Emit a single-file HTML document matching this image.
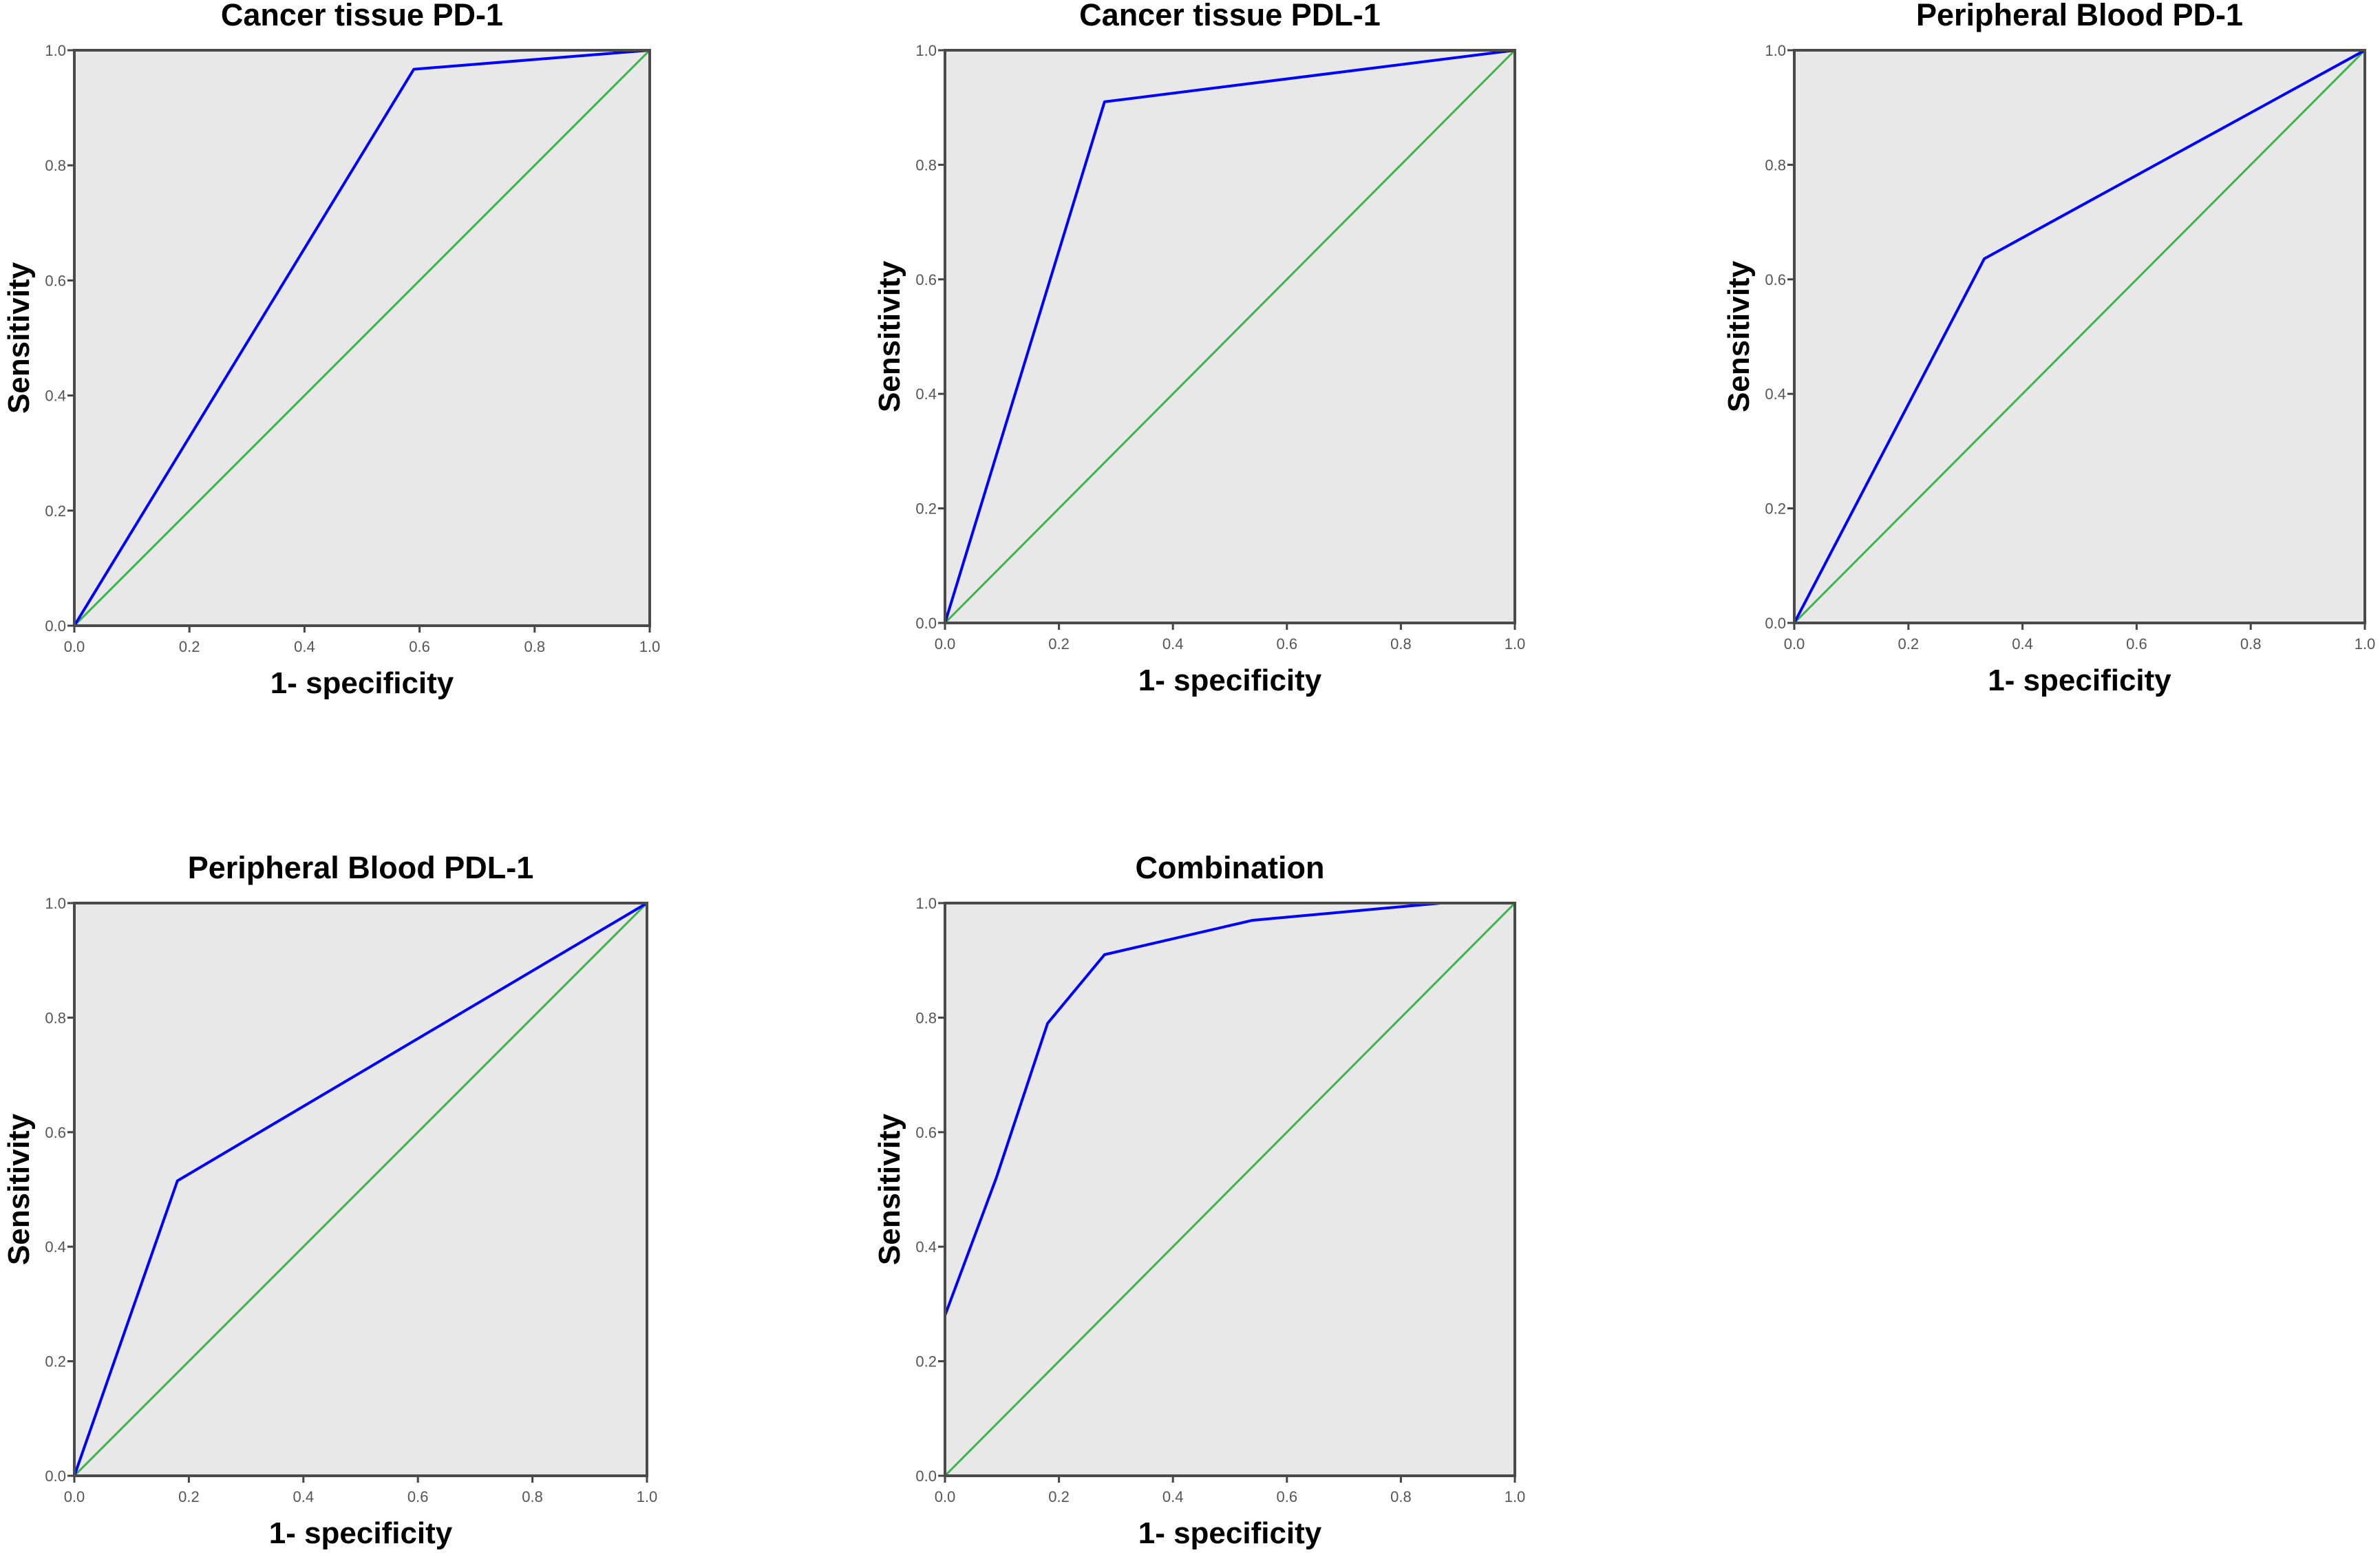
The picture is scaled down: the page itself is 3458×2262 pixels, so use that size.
<!DOCTYPE html>
<html><head><meta charset="utf-8"><style>
html,body{margin:0;padding:0;background:#fff;}
svg{display:block;font-family:"Liberation Sans",Arial,sans-serif;}
</style></head><body>
<svg id="fig" width="3458" height="2262" viewBox="0 0 3458 2262" xmlns="http://www.w3.org/2000/svg"></svg>
<script>
const titles = ["Cancer tissue PD-1","Cancer tissue PDL-1","Peripheral Blood PD-1","Peripheral Blood PDL-1","Combination"];
const fprCT_PD1 = [0, 0.59, 1];
const tprCT_PD1 = [0, 0.967, 1];
const fprCT_PDL1 = [0, 0.28, 1];
const tprCT_PDL1 = [0, 0.91, 1];
const fprPB_PD1 = [0, 0.333, 1];
const tprPB_PD1 = [0, 0.636, 1];
const fprPB_PDL1 = [0, 0.18, 1];
const tprPB_PDL1 = [0, 0.515, 1];
const fprComb = [0, 0, 0.09, 0.18, 0.28, 0.54, 0.87, 1];
const tprComb = [0, 0.28, 0.52, 0.79, 0.91, 0.97, 1, 1];
const tickVals = [0, 0.2, 0.4, 0.6, 0.8, 1.0];
const tickLabels = ["0.0","0.2","0.4","0.6","0.8","1.0"];

const panels = [
  {x0:108,x1:944,y0:73,y1:909,fpr:fprCT_PD1,tpr:tprCT_PD1},
  {x0:1373,x1:2201,y0:73,y1:905,fpr:fprCT_PDL1,tpr:tprCT_PDL1},
  {x0:2607,x1:3436,y0:73,y1:905,fpr:fprPB_PD1,tpr:tprPB_PD1},
  {x0:108,x1:940,y0:1312,y1:2144,fpr:fprPB_PDL1,tpr:tprPB_PDL1},
  {x0:1373,x1:2201,y0:1312,y1:2144,fpr:fprComb,tpr:tprComb}
];
const NS="http://www.w3.org/2000/svg";
const svg=document.getElementById('fig');
function mk(tag,attrs,parent){const e=document.createElementNS(NS,tag);for(const k in attrs)e.setAttribute(k,attrs[k]);(parent||svg).appendChild(e);return e;}

panels.forEach((p,i)=>{
  const g=mk('g',{});
  
  
  const sx=v=>p.x0+v*(p.x1-p.x0);
  const sy=v=>p.y1-v*(p.y1-p.y0);
  const bg=mk('rect',{x:p.x0,y:p.y0,width:p.x1-p.x0,height:p.y1-p.y0,fill:'#e8e8e8'},g);
  
  
  tickVals.forEach((v,j)=>{
    mk('line',{x1:sx(v),x2:sx(v),y1:p.y1,y2:p.y1+10,stroke:'#444','stroke-width':3},g);
    mk('line',{x1:p.x0-10,x2:p.x0,y1:sy(v),y2:sy(v),stroke:'#444','stroke-width':3},g);
    const tx=mk('text',{x:sx(v),y:p.y1+38,'text-anchor':'middle','font-size':22,fill:'#555'},g);
    tx.textContent=tickLabels[j];
    
    
    const ty=mk('text',{x:p.x0-12,y:sy(v)+8,'text-anchor':'end','font-size':22,fill:'#555'},g);
    ty.textContent=tickLabels[j];
    
    
  });
  const diag=mk('line',{x1:sx(0),y1:sy(0),x2:sx(1),y2:sy(1),stroke:'#3cb44b','stroke-width':3},g);
  
  
  const pts=p.fpr.map((f,k)=>sx(f)+','+sy(p.tpr[k])).join(' ');
  const roc=mk('polyline',{points:pts,fill:'none',stroke:'#0000ff','stroke-width':4,'stroke-linejoin':'round'},g);
  
  
  const fr=mk('rect',{x:p.x0,y:p.y0,width:p.x1-p.x0,height:p.y1-p.y0,fill:'none',stroke:'#4a4a4a','stroke-width':4},g);
  
  
  const cx=(p.x0+p.x1)/2;
  const t=mk('text',{x:cx,y:p.y0-36,'text-anchor':'middle','font-size':45,'font-weight':'bold',fill:'#000'},g);
  t.textContent=titles[i];
  
  
  const xt=mk('text',{x:cx,y:p.y1+98,'text-anchor':'middle','font-size':44,'font-weight':'bold',fill:'#000'},g);
  xt.textContent='1- specificity';
  
  
  const ycx=p.x0-66, ycy=(p.y0+p.y1)/2;
  const yt=mk('text',{x:ycx,y:ycy,'text-anchor':'middle','font-size':44,'font-weight':'bold',fill:'#000',transform:'rotate(-90 '+ycx+' '+ycy+')'},g);
  yt.textContent='Sensitivity';
  
  
});
</script>
</body></html>
